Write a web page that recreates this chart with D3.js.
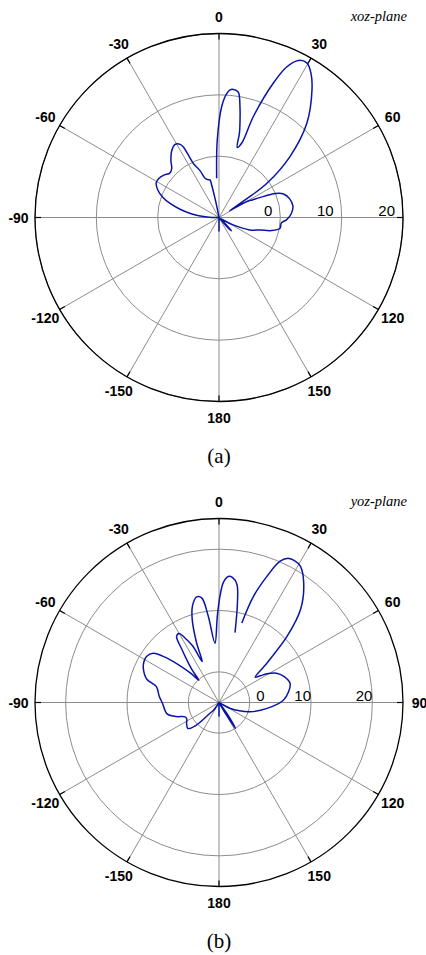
<!DOCTYPE html>
<html>
<head>
<meta charset="utf-8">
<script src="https://cdn.jsdelivr.net/npm/d3@7"></script>
<style>
body { margin: 0; background: #fff; }
</style>
</head>
<body>
<script>
var angleTicks = [-150, -120, -90, -60, -30, 0, 30, 60, 90, 120, 150, 180];
var gainTicks = [0, 10, 20];

// xoz-plane, dB (null = gap in the trace)
var xozAngle = [-180, -177, -95, -90, -88, -85, -82, -78, -74, -70, -66, -61, -57, -52, -48, -44, -40, -35, -31, -28, -26.8, -25.4, -22, -19.6, -16, -13.5, -12.7, -12, -11, -10,
    -6,
    -3.4, -1.3, 1.4, 3.5, 5, 6.4, 8.7, 10.7, 12.5, 13.6, 14.6, 17, 18.8, 22, 24.2, 26.8, 29.6, 32.5, 36, 43, 49.3, 54.5, 56, 57.5, 58.5, 59.5, 61, 62, 64, 67, 70, 75, 81, 87, 92, 95, 100, 104, 107, 112, 117.6, 122, 125,
    132, 135, 137, 139, 141, 177, 180];
var xozGain = [-7.7, -10, -10, -9.5, -8.4, -6.7, -5.3, -3.5, -1.7, -0.2, 0.9, 1.7, 1.7, 1.3, 0.8, 1.1, 2.2, 3.4, 3.9, 3.5, 2.9, -0.2, -1.8, -3.2, -3.6, -3.7, -4.6, -6.4, -8.4, -10,
    null,
    -3.6, 2.6, 8.1, 10.2, 10.9, 11.0, 10.7, 8.4, 5.8, 4.2, 1.8, 2.7, 7.4, 13.6, 16.9, 18.7, 19.0, 17.9, 15.8, 11.0, 5.3, -0.4, -4.5, -8.0, -7.0, -5.5, -4.3, -4.0, -2.6, 0.0, 1.2, 1.9, 2.2, 1.8, 1.0, 0.2, 0.1, -1.2, -3.0, -4.6, -7.4, -9.3, -10,
    -10, -8.5, -7.0, -8.0, -10, -10, -7.7];

// yoz-plane, dB
var yozAngle = [-180, -177, -150, -145, -140, -135, -130, -123, -117, -113, -108, -102, -91, -84, -76, -72, -66, -62, -57.6, -53.2, -50, -47, -44, -42, -40, -38, -35, -32.7, -30, -28, -25, -22.3, -20.6, -17.9, -15.4, -12, -9.4, -7.1, -3.9, -1.1, 0.5, 2.1, 4.2, 6.1, 8.6, 10.5, 12.9,
    14.5,
    16, 18, 20.8, 23.4, 25.8, 28, 30.8, 35.3, 41.2, 45.8, 50.6, 55, 57, 59.1, 63, 68.1, 74.9, 81.1, 88, 97, 106.5, 112, 117.8, 124,
    142, 145, 147.5, 149, 151, 177, 180];
var yozGain = [-2.7, -5, -5, -3.5, -2.7, 0.2, 1.6, 1.3, 0.9, 1.0, 2.4, 3.7, 4.2, 4.8, 5.5, 7.4, 8.5, 8.9, 9.0, 8.4, 6.5, 4.0, 1.6, -0.1, 1.5, 3.0, 5.5, 7.8, 8.0, 7.0, 5.2, 2.2, 5.4, 9.2, 11.3, 12.6, 12.3, 9.2, 4.7, 9.1, 12.3, 14.6, 15.6, 15.5, 14.5, 11.5, 6.7,
    null,
    8.5, 13.2, 17.0, 20.1, 21.1, 21.2, 20.9, 18.9, 15.2, 10.5, 5.1, 2.2, 3.0, 4.1, 5.5, 6.4, 7.0, 6.5, 5.5, 2.9, 0.3, -1.4, -3.0, -5,
    -5, -2.0, 0.0, -2.5, -5, -5, -2.7];

var width = 426, height = 955;

var svg = d3.select("body")
    .append("svg")
    .attr("width", width)
    .attr("height", height);

drawPolar({
    cx: 219, cy: 217.5, R: 184,
    domain: [-10, 20],
    angles: xozAngle, gains: xozGain,
    plane: "xoz-plane", caption: "(a)",
    skip: [90],
    labelShift: [-8, -8, -8]
});

drawPolar({
    cx: 219, cy: 702.5, R: 184,
    domain: [-5, 25],
    angles: yozAngle, gains: yozGain,
    plane: "yoz-plane", caption: "(b)",
    skip: [],
    labelShift: [15, 0, 0]
});

function drawPolar(o) {
    var g = svg.append("g")
        .attr("transform", "translate(" + o.cx + "," + o.cy + ")");

    var r = d3.scaleLinear()
        .domain(o.domain)
        .range([0, o.R])
        .clamp(true);

    var rad = function (a) { return a * Math.PI / 180; };

    // rings
    g.selectAll(".ring")
        .data(gainTicks)
        .enter().append("circle")
        .attr("r", function (d) { return r(d); })
        .style("fill", "none")
        .style("stroke", "#8c8c8c")
        .style("stroke-width", 1);

    // spokes
    g.selectAll(".spoke")
        .data(angleTicks)
        .enter().append("line")
        .attr("x2", function (d) { return o.R * Math.sin(rad(d)); })
        .attr("y2", function (d) { return -o.R * Math.cos(rad(d)); })
        .style("stroke", "#8c8c8c")
        .style("stroke-width", 1);

    g.append("circle")
        .attr("r", o.R)
        .style("fill", "none")
        .style("stroke", "#000")
        .style("stroke-width", 1.3);

    g.selectAll(".tick")
        .data(angleTicks)
        .enter().append("line")
        .attr("x1", function (d) { return (o.R - 6) * Math.sin(rad(d)); })
        .attr("y1", function (d) { return -(o.R - 6) * Math.cos(rad(d)); })
        .attr("x2", function (d) { return o.R * Math.sin(rad(d)); })
        .attr("y2", function (d) { return -o.R * Math.cos(rad(d)); })
        .style("stroke", "#000")
        .style("stroke-width", 1.2);

    // angle labels
    var lr = o.R + 16.5;
    g.selectAll(".alabel")
        .data(angleTicks.filter(function (d) { return o.skip.indexOf(d) < 0; }))
        .enter().append("text")
        .attr("x", function (d) { return lr * Math.sin(rad(d)); })
        .attr("y", function (d) { return -lr * Math.cos(rad(d)); })
        .attr("dy", "0.36em")
        .attr("text-anchor", "middle")
        .style("font-family", "'Liberation Sans', Arial, sans-serif")
        .style("font-weight", "bold")
        .style("font-size", "14px")
        .text(function (d) { return d; });

    // gain labels
    g.selectAll(".glabel")
        .data(gainTicks)
        .enter().append("text")
        .attr("x", function (d, i) { return r(d) + o.labelShift[i]; })
        .attr("y", -2)
        .attr("text-anchor", "end")
        .style("font-family", "'Liberation Sans', Arial, sans-serif")
        .style("font-size", "15px")
        .text(function (d) { return d; });

    var pts = o.angles.map(function (a, i) { return [a, o.gains[i]]; });

    var line = d3.lineRadial()
        .defined(function (d) { return d[1] !== null; })
        .angle(function (d) { return rad(d[0]); })
        .radius(function (d) { return r(d[1]); })
        .curve(d3.curveCatmullRom.alpha(0.5));

    g.append("path")
        .datum(pts)
        .attr("d", line)
        .style("fill", "none")
        .style("stroke", "#0a14a6")
        .style("stroke-width", 1.5)
        .style("stroke-linejoin", "round");

    g.append("text")
        .attr("x", 188)
        .attr("y", -196.5)
        .attr("text-anchor", "end")
        .style("font-family", "'Liberation Serif', 'Times New Roman', serif")
        .style("font-style", "italic")
        .style("font-size", "14.5px")
        .text(o.plane);

    g.append("text")
        .attr("x", 0)
        .attr("y", 245)
        .attr("text-anchor", "middle")
        .style("font-family", "'Liberation Serif', 'Times New Roman', serif")
        .style("font-size", "21px")
        .text(o.caption);
}
</script>
</body>
</html>
